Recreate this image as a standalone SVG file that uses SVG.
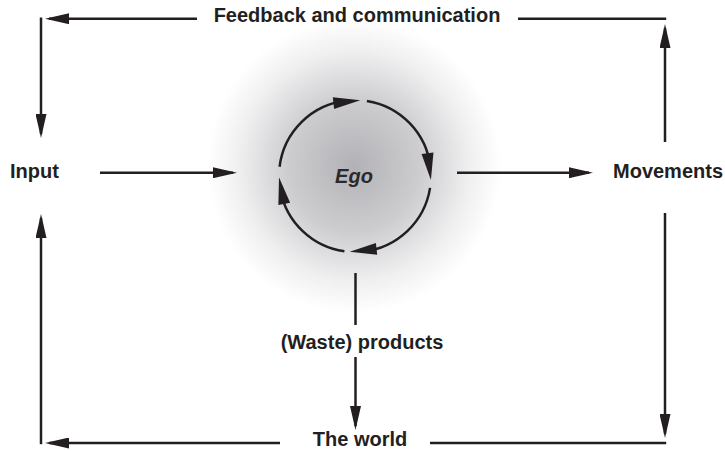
<svg xmlns="http://www.w3.org/2000/svg" xmlns:xlink="http://www.w3.org/1999/xlink" width="725" height="451" viewBox="0 0 725 451">
<style>
.lbl{font-family:"Liberation Sans",Arial,sans-serif;font-weight:bold;font-size:20px;fill:#231f20}
.ego{font-family:"Liberation Sans",Arial,sans-serif;font-weight:bold;font-style:italic;font-size:20px;fill:#2a2a2c}
.ln{fill:none;stroke:#231f20;stroke-width:2.5}
.hd{fill:#231f20}
</style>
<defs>
<radialGradient id="glow" cx="0.5" cy="0.5" r="0.5">
<stop offset="0" stop-color="#b2b2b6"/>
<stop offset="0.45" stop-color="#cdcdd0"/>
<stop offset="0.78" stop-color="#efeff0"/>
<stop offset="1" stop-color="#ffffff"/>
</radialGradient>
<marker id="arr" markerUnits="userSpaceOnUse" markerWidth="24" markerHeight="11" refX="20" refY="5.5" orient="auto">
<path d="M0,0 L24,5.5 L0,11 z" class="hd"/>
</marker>
<path id="head" d="M0,0 L-27,-6 L-27,6 z"/>
</defs>
<rect width="725" height="451" fill="#fff"/>
<g id="ego">
<circle cx="354" cy="166" r="147" fill="url(#glow)"/>
<text class="ego" x="354" y="183" text-anchor="middle">Ego</text>
</g>
<g id="cycle">
<path class="ln" d="M279.57,166.74 A76,76 0 0 1 347.06,100.42"/>
<path class="ln" d="M366.89,100.94 A76,76 0 0 1 430.43,166.74"/>
<path class="ln" d="M430.06,187.89 A76,76 0 0 1 362.94,251.58"/>
<path class="ln" d="M344.42,251.26 A76,76 0 0 1 280.40,190.50"/>
<use xlink:href="#head" class="hd" transform="translate(360.3,100.19) rotate(-6.2)"/>
<use xlink:href="#head" class="hd" transform="translate(430.9,179.98) rotate(82.8)"/>
<use xlink:href="#head" class="hd" transform="translate(349.7,251.81) rotate(173.8)"/>
<use xlink:href="#head" class="hd" transform="translate(279.01,177.33) rotate(258.8)"/>
</g>
<g id="feedback"><text class="lbl" x="357" y="22" text-anchor="middle">Feedback and communication</text></g>
<g id="input"><text class="lbl" x="10" y="178">Input</text></g>
<g id="movements"><text class="lbl" x="613" y="178">Movements</text></g>
<g id="waste"><text class="lbl" x="362" y="349" text-anchor="middle">(Waste) products</text></g>
<g id="world"><text class="lbl" x="360" y="446" text-anchor="middle">The world</text></g>
<g id="connectors">
<line class="ln" x1="197" y1="18.7" x2="49" y2="18.7" marker-end="url(#arr)"/>
<line class="ln" x1="41" y1="17.5" x2="41" y2="134" marker-end="url(#arr)"/>
<line class="ln" x1="518" y1="18.7" x2="666.2" y2="18.7"/>
<line class="ln" x1="665" y1="142" x2="665" y2="28" marker-end="url(#arr)"/>
<line class="ln" x1="100" y1="172.7" x2="233" y2="172.7" marker-end="url(#arr)"/>
<line class="ln" x1="457" y1="172.7" x2="589" y2="172.7" marker-end="url(#arr)"/>
<line class="ln" x1="665" y1="213" x2="665" y2="434" marker-end="url(#arr)"/>
<line class="ln" x1="430" y1="443" x2="666.2" y2="443"/>
<line class="ln" x1="280" y1="443" x2="49" y2="443" marker-end="url(#arr)"/>
<line class="ln" x1="41" y1="444.2" x2="41" y2="218" marker-end="url(#arr)"/>
<line class="ln" x1="355.5" y1="273" x2="355.5" y2="325"/>
<line class="ln" x1="355.5" y1="357" x2="355.5" y2="426" marker-end="url(#arr)"/>
</g>
</svg>
